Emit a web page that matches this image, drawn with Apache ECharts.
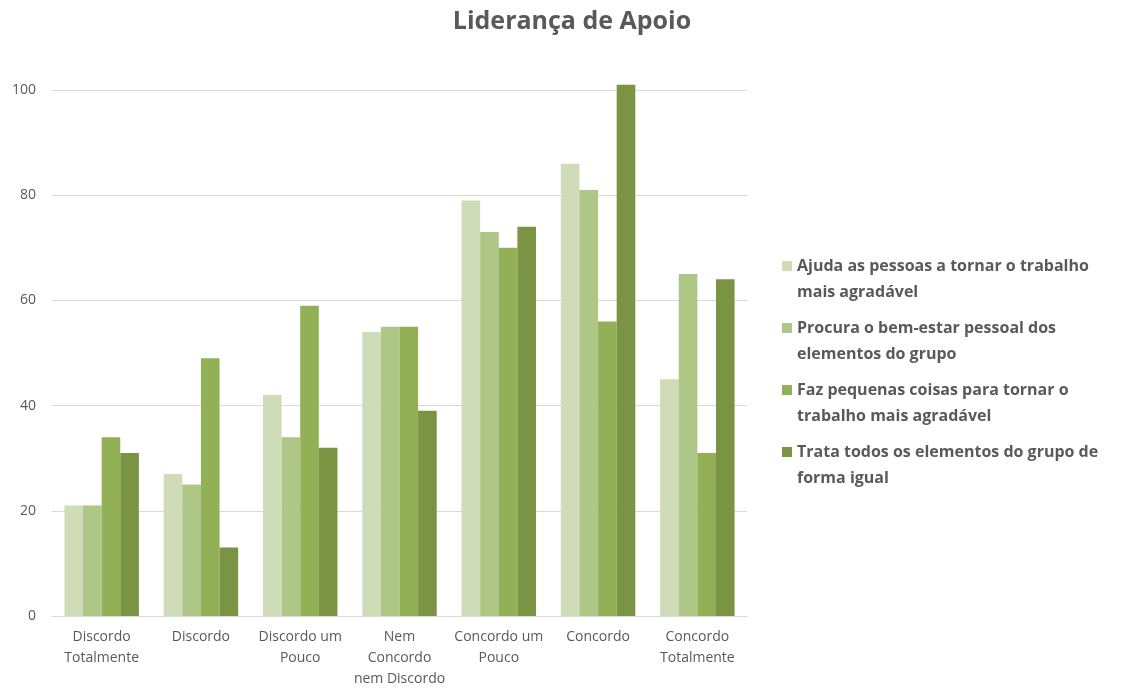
<!DOCTYPE html>
<html><head><meta charset="utf-8">
<script src="https://cdn.jsdelivr.net/npm/echarts@6/dist/echarts.min.js"></script>
<style>html,body{margin:0;padding:0;background:#fff}#c{width:1141px;height:691px}</style>
</head><body><div id="c"></div>
<script>
const categories = ["Discordo\nTotalmente","Discordo","Discordo um\nPouco","Nem\nConcordo\nnem Discordo","Concordo um\nPouco","Concordo","Concordo\nTotalmente"];
const seriesNames = ["Ajuda as pessoas a tornar o trabalho mais agradável","Procura o bem-estar pessoal dos elementos do grupo","Faz pequenas coisas para tornar o trabalho mais agradável","Trata todos os elementos do grupo de forma igual"];
const legendLabels = ["Ajuda as pessoas a tornar o trabalho\nmais agradável","Procura o bem-estar pessoal dos\nelementos do grupo","Faz pequenas coisas para tornar o\ntrabalho mais agradável","Trata todos os elementos do grupo de\nforma igual"];
const ajuda = [21,27,42,54,79,86,45];
const procura = [21,25,34,55,73,81,65];
const faz = [34,49,59,55,70,56,31];
const trata = [31,13,32,39,74,101,64];
const yTicks = [0,20,40,60,80,100];
const colors = ["#cedcb8","#aec686","#92b056","#7b9444"];
const values = [ajuda, procura, faz, trata];
const font = "'Open Sans', sans-serif";
const chart = echarts.init(document.getElementById('c'));
chart.setOption({
  animation:false,
  title:{text:"Liderança de Apoio",left:567,textAlign:'center',top:4,textStyle:{fontFamily:font,fontWeight:'bold',fontSize:25,color:'#595959'}},
  grid:{left:52,right:394,top:90,bottom:75},
  legend:{orient:'vertical',left:777,top:222,itemWidth:10,itemHeight:10,itemGap:-16,
    icon:'rect',
    formatter:(n)=>' \n'+legendLabels[seriesNames.indexOf(n)],
    textStyle:{fontFamily:font,fontWeight:'bold',fontSize:16,color:'#595959',lineHeight:26}},
  xAxis:{type:'category',data:categories,
    axisLine:{lineStyle:{color:'#d9d9d9'}},axisTick:{show:false},
    axisLabel:{interval:0,fontFamily:font,fontSize:14,color:'#595959',lineHeight:21,margin:11}},
  yAxis:{type:'value',min:yTicks[0],max:yTicks[yTicks.length-1],interval:20,
    axisLine:{show:false},axisTick:{show:false},
    splitLine:{lineStyle:{color:'#d9d9d9'}},
    axisLabel:{fontFamily:font,fontSize:14,color:'#595959',margin:16}},
  series: seriesNames.map((n,i)=>({name:n,type:'bar',data:values[i],clip:false,
    barGap:'0%',barCategoryGap:'25%',itemStyle:{color:colors[i]}}))
});
</script></body></html>
